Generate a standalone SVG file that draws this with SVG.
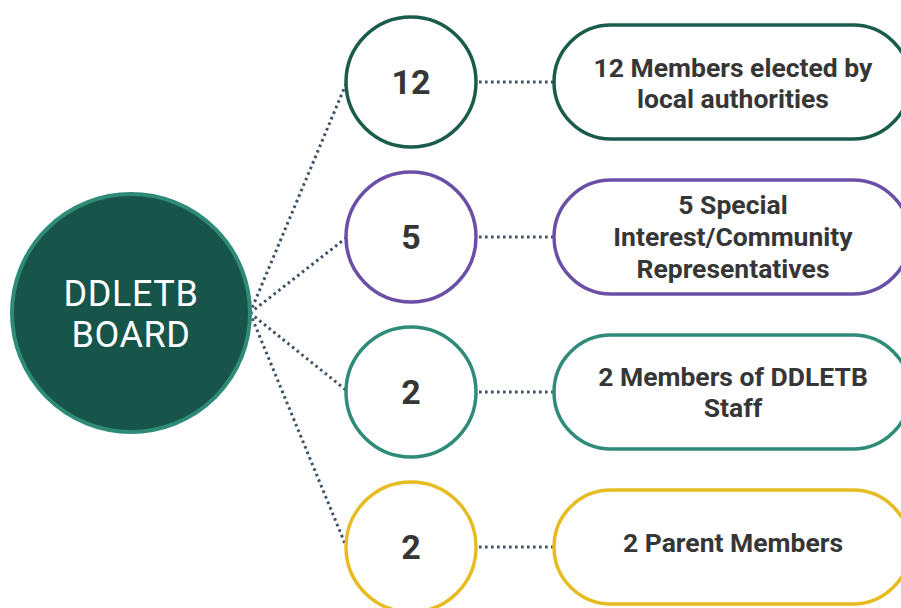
<svg xmlns="http://www.w3.org/2000/svg" width="901" height="608" viewBox="0 0 901 608">
<style>
.conn{fill:none;stroke:#3E5266;stroke-width:3;stroke-dasharray:2.6 3.4}
.num{font-family:Roboto,"Liberation Sans",sans-serif;font-weight:bold;font-size:34px;fill:#363636;text-anchor:middle}
.lbl{font-family:Roboto,"Liberation Sans",sans-serif;font-weight:bold;font-size:26.5px;fill:#363636;text-anchor:middle}
.circ{fill:#fff;stroke-width:3.5}
.pill{fill:#fff;stroke-width:3.5}
</style>
<rect width="901" height="608" fill="#fff"/>
<g id="connectors">
<line class="conn" x1="250" y1="313" x2="346" y2="84"/>
<line class="conn" x1="250" y1="313" x2="346" y2="238"/>
<line class="conn" x1="250" y1="313" x2="346" y2="390"/>
<line class="conn" x1="250" y1="313" x2="346" y2="546"/>
<line class="conn" x1="479" y1="82" x2="553" y2="82"/>
<line class="conn" x1="479" y1="237" x2="553" y2="237"/>
<line class="conn" x1="479" y1="392" x2="553" y2="392"/>
<line class="conn" x1="479" y1="547" x2="553" y2="547"/>
</g>
<g id="board">
<circle cx="131" cy="313" r="119" fill="#17544A" stroke="#2E8B78" stroke-width="4"/>
<text x="131" y="306" font-family="Roboto,'Liberation Sans',sans-serif" font-size="36" fill="#fff" text-anchor="middle" letter-spacing="0.6">DDLETB</text>
<text x="131" y="347" font-family="Roboto,'Liberation Sans',sans-serif" font-size="36" fill="#fff" text-anchor="middle" letter-spacing="0.6">BOARD</text>
</g>
<g id="n12">
<circle class="circ" cx="411" cy="82" r="65" stroke="#1A5C4C"/>
<text class="num" x="411" y="94">12</text>
</g>
<g id="n5">
<circle class="circ" cx="411" cy="237" r="65" stroke="#6A4FA6"/>
<text class="num" x="411" y="249">5</text>
</g>
<g id="n2a">
<circle class="circ" cx="411" cy="392" r="65" stroke="#2E8B78"/>
<text class="num" x="411" y="404">2</text>
</g>
<g id="n2b">
<circle class="circ" cx="411" cy="547" r="65" stroke="#E6BC22"/>
<text class="num" x="411" y="559">2</text>
</g>
<g id="p1">
<rect class="pill" x="554" y="25" width="356" height="114" rx="57" stroke="#1A5C4C"/>
<text class="lbl" x="733" y="77">12 Members elected by</text>
<text class="lbl" x="733" y="108">local authorities</text>
</g>
<g id="p2">
<rect class="pill" x="554" y="180" width="356" height="114" rx="57" stroke="#6A4FA6"/>
<text class="lbl" x="733" y="214">5 Special</text>
<text class="lbl" x="733" y="246">Interest/Community</text>
<text class="lbl" x="733" y="278">Representatives</text>
</g>
<g id="p3">
<rect class="pill" x="554" y="335" width="356" height="114" rx="57" stroke="#2E8B78"/>
<text class="lbl" x="733" y="386">2 Members of DDLETB</text>
<text class="lbl" x="733" y="417">Staff</text>
</g>
<g id="p4">
<rect class="pill" x="554" y="490" width="356" height="114" rx="57" stroke="#E6BC22"/>
<text class="lbl" x="733" y="552">2 Parent Members</text>
</g>
</svg>
